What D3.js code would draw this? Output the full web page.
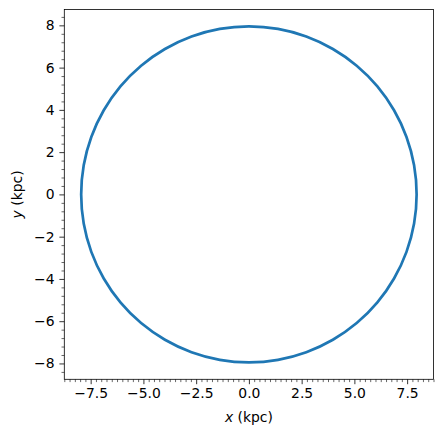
<!DOCTYPE html>
<html>
<head>
<meta charset="utf-8">
<script src="https://cdn.jsdelivr.net/npm/d3@7"></script>
<style>
  html, body { margin: 0; padding: 0; background: #fff; }
  svg { display: block; font-family: "DejaVu Sans", sans-serif; }
</style>
</head>
<body>
<svg id="chart" width="443" height="436"></svg>
<script>
// Orbit samples (kpc)
const orbitX = [7.95, 7.83, 7.47, 6.88, 6.09, 5.11, 3.98, 2.72, 1.38, 0.00,
  -1.38, -2.72, -3.98, -5.11, -6.09, -6.88, -7.47, -7.83, -7.95, -7.83,
  -7.47, -6.88, -6.09, -5.11, -3.98, -2.72, -1.38, 0.00, 1.38, 2.72,
  3.98, 5.11, 6.09, 6.88, 7.47, 7.83];
const orbitY = [0.00, 1.38, 2.72, 3.98, 5.11, 6.09, 6.88, 7.47, 7.83, 7.95,
  7.83, 7.47, 6.88, 6.09, 5.11, 3.98, 2.72, 1.38, 0.00, -1.38,
  -2.72, -3.98, -5.11, -6.09, -6.88, -7.47, -7.83, -7.95, -7.83, -7.47,
  -6.88, -6.09, -5.11, -3.98, -2.72, -1.38];
const xTicks = [-7.5, -5.0, -2.5, 0.0, 2.5, 5.0, 7.5];
const yTicks = [-8, -6, -4, -2, 0, 2, 4, 6, 8];
const xDomain = [-8.75, 8.75];
const yDomain = [-8.75, 8.75];
const xMinorStep = 0.25;
const yMinorStep = 0.4;

const svg = d3.select("#chart");
const L = 64.3, R = 433.5, T = 9.5, B = 379.3;
const x = d3.scaleLinear().domain(xDomain).range([L, R]);
const y = d3.scaleLinear().domain(yDomain).range([B, T]);

const fs = "13.9px";
const minusFmt = (v, dec) => {
  const s = v.toFixed(dec);
  return s.replace("-", "\u2212");
};

// minor ticks
function minorValues(domain, step, majors) {
  const out = [];
  const start = Math.ceil(domain[0] / step - 1e-9);
  const end = Math.floor(domain[1] / step + 1e-9);
  for (let i = start; i <= end; i++) {
    const v = +(i * step).toFixed(6);
    if (!majors.some(m => Math.abs(m - v) < 1e-6)) out.push(v);
  }
  return out;
}
const xMinor = minorValues(xDomain, xMinorStep, xTicks);
const yMinor = minorValues(yDomain, yMinorStep, yTicks);

const xAxisMinor = d3.axisBottom(x).tickValues(xMinor).tickSize(2.8).tickFormat("");
const yAxisMinor = d3.axisLeft(y).tickValues(yMinor).tickSize(2.8).tickFormat("");
const xAxis = d3.axisBottom(x).tickValues(xTicks).tickSize(4.9).tickPadding(3.5)
  .tickFormat(d => minusFmt(d, 1));
const yAxis = d3.axisLeft(y).tickValues(yTicks).tickSize(4.9).tickPadding(4.9)
  .tickFormat(d => minusFmt(d, 0));

function style(g, major) {
  g.select(".domain").remove();
  g.selectAll(".tick line").attr("stroke", "#000").attr("stroke-width", major ? 0.8 : 0.6);
  g.selectAll(".tick text").attr("fill", "#000").style("font-size", fs)
    .style("font-family", "'DejaVu Sans', sans-serif");
}

svg.append("g").attr("transform", `translate(0,${B})`).call(xAxisMinor).call(g => style(g, false));
svg.append("g").attr("transform", `translate(${L},0)`).call(yAxisMinor).call(g => style(g, false));
svg.append("g").attr("transform", `translate(0,${B})`).call(xAxis).call(g => style(g, true));
svg.append("g").attr("transform", `translate(${L},0)`).call(yAxis).call(g => style(g, true));

// orbit line
const pts = orbitX.map((v, i) => [v, orbitY[i]]);
const line = d3.line().x(d => x(d[0])).y(d => y(d[1])).curve(d3.curveCatmullRomClosed.alpha(0.5));
svg.append("path").datum(pts).attr("d", line)
  .attr("fill", "none").attr("stroke", "#1f77b4").attr("stroke-width", 2.7);

// frame
svg.append("rect").attr("x", L).attr("y", T).attr("width", R - L).attr("height", B - T)
  .attr("fill", "none").attr("stroke", "#000").attr("stroke-width", 0.8);

// axis labels
const xl = svg.append("text").attr("x", (L + R) / 2).attr("y", 421.5)
  .attr("text-anchor", "middle").style("font-size", fs).attr("fill", "#000");
xl.append("tspan").style("font-style", "italic").text("x");
xl.append("tspan").text(" (kpc)");

const yl = svg.append("text")
  .attr("transform", `translate(22,${(T + B) / 2}) rotate(-90)`)
  .attr("text-anchor", "middle").style("font-size", fs).attr("fill", "#000");
yl.append("tspan").style("font-style", "italic").text("y");
yl.append("tspan").text(" (kpc)");
</script>
</body>
</html>
